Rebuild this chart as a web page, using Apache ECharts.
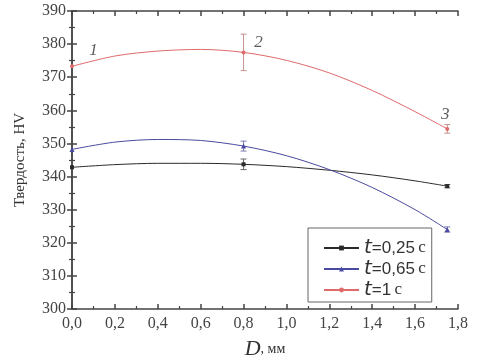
<!DOCTYPE html>
<html>
<head>
<meta charset="utf-8">
<script src="https://cdn.jsdelivr.net/npm/echarts@6/dist/echarts.min.js"></script>
<style>
  html, body { margin: 0; padding: 0; background: #fff; }
  #chart { width: 480px; height: 364px; }
</style>
</head>
<body>
<div id="chart"></div>
<script>
// fitted curves
var curveD = [0, 0.2, 0.4, 0.6, 0.8, 1.0, 1.2, 1.4, 1.6, 1.75];
var curve025 = [342.8, 343.6, 344.0, 344.0, 343.7, 343.0, 341.9, 340.5, 338.7, 337.1];
var curve065 = [348.2, 350.4, 351.2, 350.9, 349.2, 346.3, 342.1, 336.7, 330.0, 324.0];
var curve1 = [373.3, 376.4, 377.9, 378.4, 377.5, 375.1, 371.3, 366.0, 359.6, 354.4];

// measured points (D where markers are drawn) and their error half-widths
var measD = [0, 0.8, 1.75];
var err025 = [0, 1.6, 0.5];
var err065 = [0, 1.5, 0.8];
var err1 = [0, 5.5, 1.3];

var names = ['=0,25', '=0,65', '=1'];
var colors = ['#2a2a2a', '#4a4aa0', '#e06a6a'];
var errColors = ['#666666', '#7a7ab0', '#c89090'];
var symbols = ['rect', 'triangle', 'circle'];

// point labels 1, 2, 3 next to the red curve
var annoText = ['1', '2', '3'];
var annoPos = [[0.1, 378.2], [0.87, 380.4], [1.74, 358.6]];

var curves = [curve025, curve065, curve1];
var errs = [err025, err065, err1];

var chart = echarts.init(document.getElementById('chart'));

function lineData(vals) {
    return curveD.map(function (d, i) {
        var item = { value: [d, vals[i]] };
        if (measD.indexOf(d) < 0) item.symbol = 'none';
        return item;
    });
}

function errData(vals, e) {
    var out = [];
    measD.forEach(function (d, i) {
        if (e[i] > 0) {
            var v = vals[curveD.indexOf(d)];
            out.push([d, v - e[i], v + e[i]]);
        }
    });
    return out;
}

var series = [];
curves.forEach(function (c, k) {
    series.push({
        name: names[k],
        type: 'line',
        smooth: 0.3,
        data: lineData(c),
        symbol: symbols[k],
        symbolSize: k == 1 ? 5 : 4,
        showAllSymbol: true,
        color: colors[k],
        lineStyle: { width: 1, color: colors[k] },
        itemStyle: { color: colors[k] },
        z: 3
    });
    series.push({
        type: 'custom',
        data: errData(c, errs[k]),
        silent: true,
        z: 2,
        renderItem: function (params, api) {
            var lo = api.coord([api.value(0), api.value(1)]);
            var hi = api.coord([api.value(0), api.value(2)]);
            var w = 3;
            var st = { stroke: errColors[k], lineWidth: 1 };
            return {
                type: 'group',
                children: [
                    { type: 'line', shape: { x1: lo[0], y1: lo[1], x2: hi[0], y2: hi[1] }, style: st },
                    { type: 'line', shape: { x1: lo[0] - w, y1: lo[1], x2: lo[0] + w, y2: lo[1] }, style: st },
                    { type: 'line', shape: { x1: hi[0] - w, y1: hi[1], x2: hi[0] + w, y2: hi[1] }, style: st }
                ]
            };
        }
    });
});

series.push({
    type: 'scatter',
    symbolSize: 0,
    silent: true,
    data: annoPos.map(function (p, i) { return { value: p, name: annoText[i] }; }),
    label: {
        show: true,
        position: 'inside',
        formatter: '{b}',
        fontFamily: 'Liberation Serif',
        fontStyle: 'italic',
        fontSize: 17,
        color: '#333'
    }
});

var axisLineStyle = { color: '#444', width: 1.5 };
var minorStyle = { color: '#444', width: 1.2 };
var labelFont = 'Liberation Serif';

chart.setOption({
    animation: false,
    backgroundColor: '#fff',
    grid: { left: 72, right: 22, top: 11, bottom: 55, containLabel: false, outerBoundsMode: 'none' },
    legend: {
        orient: 'vertical',
        left: 308,
        top: 228,
        data: names,
        itemWidth: 35,
        itemHeight: 6,
        itemGap: 1,
        padding: [10, 6, 2, 15],
        borderColor: '#666',
        borderWidth: 1,
        backgroundColor: '#fff',
        formatter: function (n) { return '{t|t}{n|' + n + '} {c|с}'; },
        textStyle: {
            color: '#333',
            lineHeight: 20,
            rich: {
                t: { fontFamily: 'DejaVu Sans', fontStyle: 'italic', fontSize: 20, color: '#333' },
                n: { fontFamily: 'Liberation Sans', fontSize: 17, color: '#333' },
                c: { fontFamily: 'Liberation Serif', fontSize: 17, color: '#333' }
            }
        }
    },
    xAxis: [{
        type: 'value',
        min: 0,
        max: 1.8,
        interval: 0.2,
        name: '{d|D}{m|, мм}',
        nameLocation: 'middle',
        nameGap: 29,
        nameTextStyle: {
            rich: {
                d: { fontFamily: 'Liberation Serif', fontStyle: 'italic', fontSize: 22, color: '#333' },
                m: { fontFamily: 'Liberation Serif', fontSize: 14, color: '#333' }
            }
        },
        axisLine: { show: true, lineStyle: axisLineStyle },
        axisTick: { show: true, inside: true, length: 5, lineStyle: axisLineStyle },
        minorTick: { show: true, splitNumber: 2, length: 3, lineStyle: minorStyle },
        splitLine: { show: false },
        axisLabel: {
            margin: 7,
            formatter: function (v) { return v.toFixed(1).replace('.', ','); },
            fontFamily: labelFont, fontSize: 16, color: '#444'
        }
    }, {
        type: 'value',
        position: 'top',
        min: 0,
        max: 1.8,
        interval: 0.2,
        axisLine: { show: true, lineStyle: axisLineStyle },
        axisTick: { show: true, inside: true, length: 5, lineStyle: axisLineStyle },
        minorTick: { show: true, splitNumber: 2, length: 3, lineStyle: minorStyle },
        splitLine: { show: false },
        axisLabel: { show: false }
    }],
    yAxis: [{
        type: 'value',
        min: 300,
        max: 390,
        interval: 10,
        name: 'Твердость, HV',
        nameLocation: 'middle',
        nameGap: 44,
        nameTextStyle: { fontFamily: labelFont, fontSize: 15, color: '#333' },
        axisLine: { show: true, lineStyle: axisLineStyle },
        axisTick: { show: true, inside: true, length: 5, lineStyle: axisLineStyle },
        minorTick: { show: true, splitNumber: 2, length: 3, lineStyle: minorStyle },
        splitLine: { show: false },
        axisLabel: { margin: 6, fontFamily: labelFont, fontSize: 16, color: '#444' }
    }, {
        type: 'value',
        position: 'right',
        min: 300,
        max: 390,
        interval: 10,
        axisLine: { show: true, lineStyle: axisLineStyle },
        axisTick: { show: true, inside: true, length: 5, lineStyle: axisLineStyle },
        minorTick: { show: true, splitNumber: 2, length: 3, lineStyle: minorStyle },
        splitLine: { show: false },
        axisLabel: { show: false }
    }],
    series: series
});
</script>
</body>
</html>
